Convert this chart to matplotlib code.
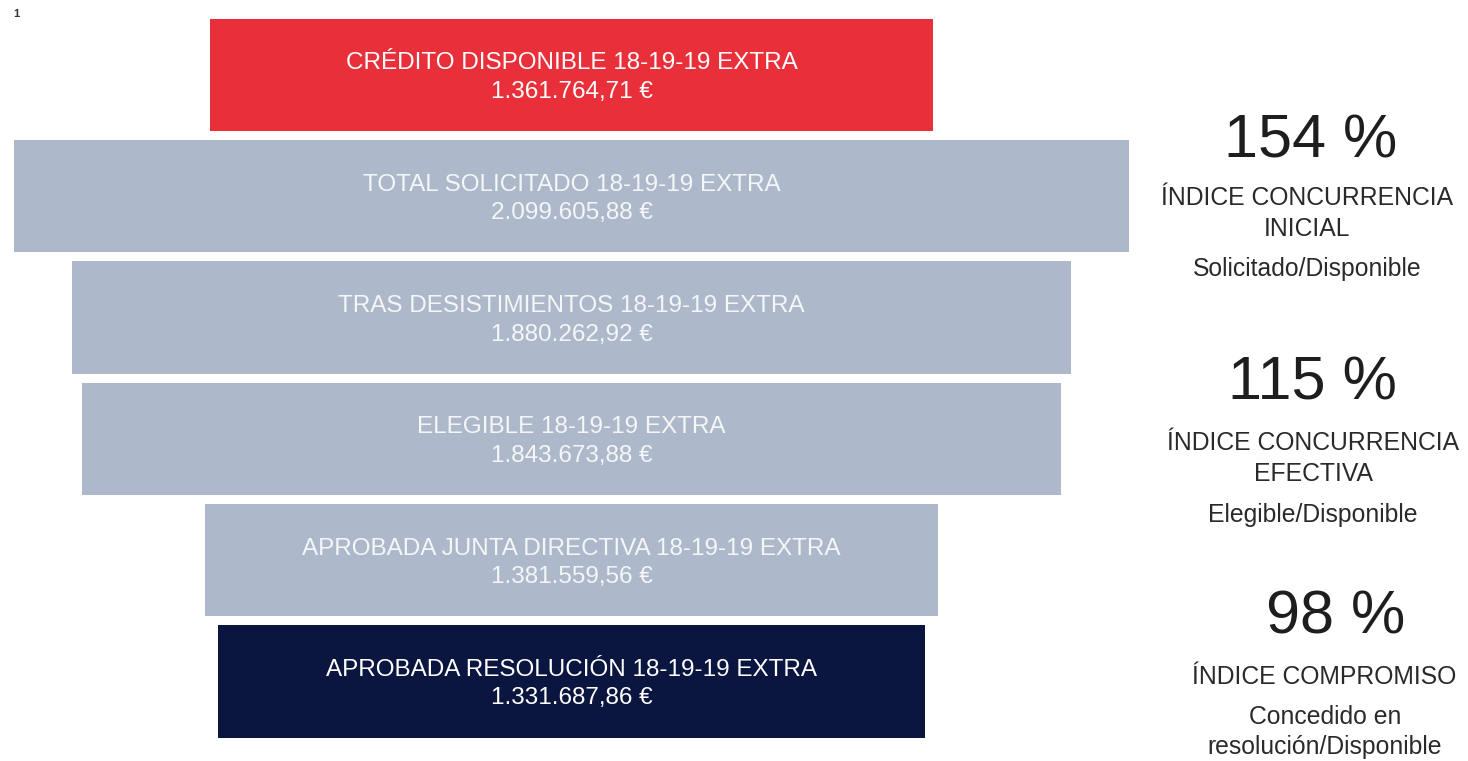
import matplotlib
matplotlib.use("Agg")
import matplotlib.pyplot as plt

plt.rcParams['font.family'] = ['Liberation Sans', 'DejaVu Sans']

# ---- data ----
labels = [
    "CRÉDITO DISPONIBLE 18-19-19 EXTRA",
    "TOTAL SOLICITADO 18-19-19 EXTRA",
    "TRAS DESISTIMIENTOS 18-19-19 EXTRA",
    "ELEGIBLE 18-19-19 EXTRA",
    "APROBADA JUNTA DIRECTIVA 18-19-19 EXTRA",
    "APROBADA RESOLUCIÓN 18-19-19 EXTRA",
]
values = [1361764.71, 2099605.88, 1880262.92, 1843673.88, 1381559.56, 1331687.86]
value_labels = ["1.361.764,71 €", "2.099.605,88 €", "1.880.262,92 €",
                "1.843.673,88 €", "1.381.559,56 €", "1.331.687,86 €"]
bar_colors = ["#E9303A", "#ADB9CA", "#ADB9CA", "#ADB9CA", "#ADB9CA", "#0B1640"]
text_colors = ["#FFFFFF", "#F4F6F8", "#F4F6F8", "#F4F6F8", "#F4F6F8", "#FFFFFF"]

index_values = ["154 %", "115 %", "98 %"]
index_titles = [["ÍNDICE CONCURRENCIA", "INICIAL"],
                ["ÍNDICE CONCURRENCIA", "EFECTIVA"],
                ["ÍNDICE COMPROMISO"]]
index_notes = [["Solicitado/Disponible"],
               ["Elegible/Disponible"],
               ["Concedido en", "resolución/Disponible"]]

W, H = 1468, 761
fig = plt.figure(figsize=(W / 100, H / 100), dpi=100)
ax = fig.add_axes([0, 0, 1, 1])
ax.set_axis_off()

k = 0.000531          # pixels per euro
cx = 571.5            # centre pixel
ax.set_xlim(-cx / k, (W - cx) / k)
step = 121.3
ax.set_ylim(5 + (H - 681.5) / step, -75 / step)

ys = list(range(len(values)))
ax.barh(ys, values, left=[-v / 2 for v in values], height=0.925,
        color=bar_colors, edgecolor="none")
for y, lab, vl, tc in zip(ys, labels, value_labels, text_colors):
    ax.text(0, y - 0.095, lab, ha="center", va="center", color=tc, fontsize=17.5)
    ax.text(0, y + 0.14, vl, ha="center", va="center", color=tc, fontsize=17.5)

def fx(px):
    return px / W

def fy(py):
    return 1 - py / H

# right-hand indices
big_pos = [(1311, 142), (1312, 384), (1336, 618)]
title_pos = [[(1307, 198), (1307, 229)], [(1313, 443), (1313, 474)], [(1324, 677)]]
note_pos = [[(1307, 269)], [(1313, 515)], [(1325, 717), (1325, 747)]]
for bv, bp, tl, tp, nl, npos in zip(index_values, big_pos, index_titles, title_pos,
                                     index_notes, note_pos):
    fig.text(fx(bp[0]), fy(bp[1]), bv, ha="center", va="center",
             fontsize=44, color="#1E1E1E")
    for t, p in zip(tl, tp):
        fig.text(fx(p[0]), fy(p[1]), t, ha="center", va="center",
                 fontsize=17.8, color="#2A2A2A")
    for t, p in zip(nl, npos):
        fig.text(fx(p[0]), fy(p[1]), t, ha="center", va="center",
                 fontsize=17.8, color="#2A2A2A")

fig.text(fx(16), fy(14), "1", ha="center", va="center", fontsize=8,
         color="#333333", fontweight="bold")

fig.savefig("out.png", dpi=100)
